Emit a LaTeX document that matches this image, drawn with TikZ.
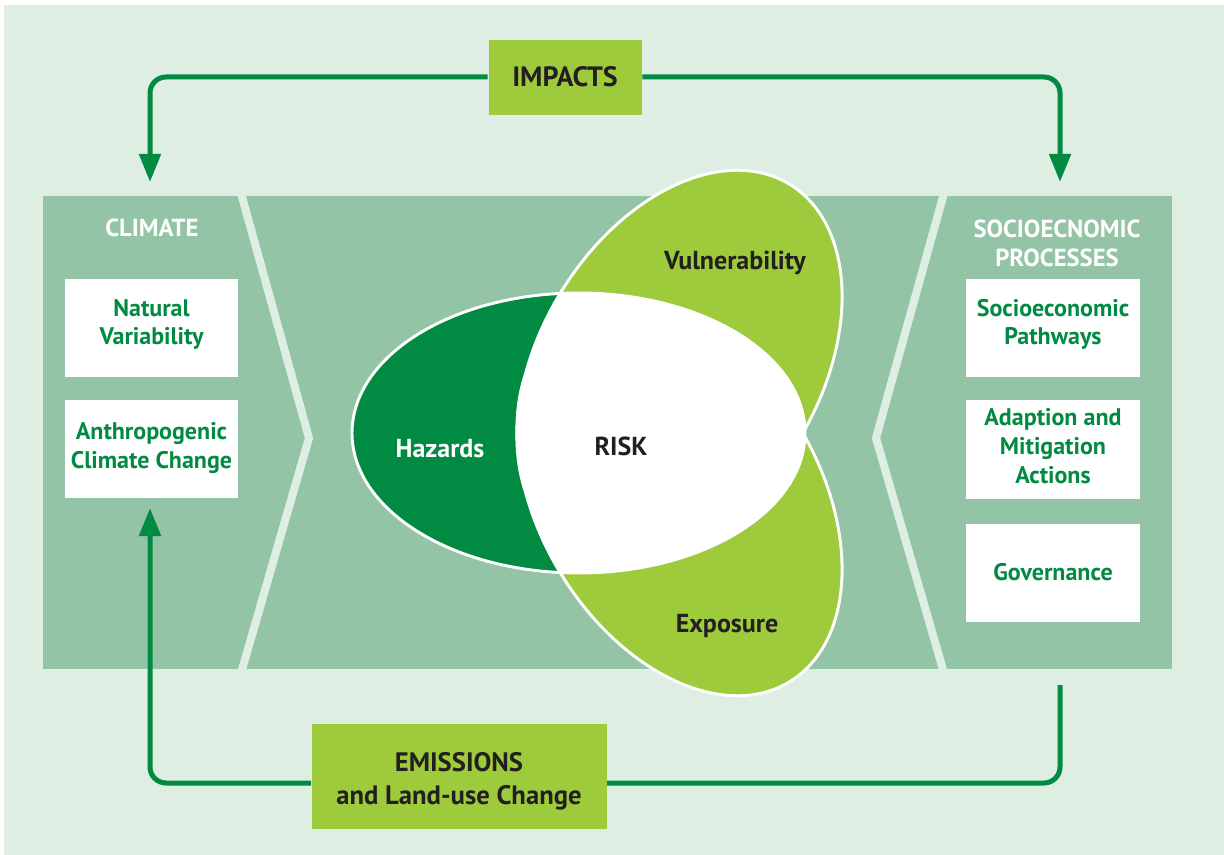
\documentclass[tikz,border=0pt]{standalone}
\usepackage{fontspec}
\setmainfont{PT Sans}
\usetikzlibrary{arrows.meta}
\definecolor{bgl}{HTML}{DEEEE3}
\definecolor{band}{HTML}{93C4A5}
\definecolor{dgreen}{HTML}{008A42}
\definecolor{lgreen}{HTML}{9DCB3B}
\definecolor{ink}{HTML}{231F20}
\begin{document}
\begin{tikzpicture}[x=0.75pt,y=-0.75pt,
  wbox/.style={fill=white, draw=none, inner sep=0pt, minimum width=130pt, minimum height=73.5pt},
  lbox/.style={fill=lgreen, draw=bgl, line width=0.6pt, inner sep=0pt},
  boxtxt/.style={font=\bfseries\fontsize{18pt}{21.5pt}\selectfont, text=dgreen, align=center, anchor=base, inner sep=0pt},
  headtxt/.style={font=\bfseries\fontsize{18.5pt}{22.3pt}\selectfont, text=white, align=center, anchor=base, inner sep=0pt},
  leaftxt/.style={font=\bfseries\fontsize{19.5pt}{23pt}\selectfont, text=ink, anchor=base, inner sep=0pt},
  flowline/.style={draw=dgreen, line width=3.75pt, rounded corners=12pt},
  flowarrow/.style={flowline, -{Triangle[length=21pt, width=15.75pt]}},
  stripe/.style={draw=bgl, line width=6pt},
  rim/.style={draw=white, line width=2.2pt}
]
\useasboundingbox (0,0) rectangle (1224,855);
\fill[white] (0,0) rectangle (1224,855);
\fill[bgl] (4,5) rectangle (1224,855);
\fill[band] (43,196) rectangle (1172,669);
\draw[stripe] (239,186) -- (309,438) -- (239,680);
\draw[stripe] (946,186) -- (876,438) -- (946,680);

% left column
\node[headtxt] (climH) at (152,237) {CLIMATE};
\node[wbox] (natB) at (151.5,328) {};
\node[wbox] (antB) at (151.5,449) {};
\node[boxtxt] (natT) at (151.5,345) {Natural\\Variability};
\node[boxtxt] (antT) at (151.5,468) {Anthropogenic\\Climate Change};

% right column
\node[headtxt] (socH) at (1057,267) {SOCIOECNOMIC\\PROCESSES};
\node[wbox] (pathB) at (1053,328.5) {};
\node[wbox] (adaB) at (1053,449.5) {};
\node[wbox] (govB) at (1053,572.5) {};
\node[boxtxt] (pathT) at (1053,345) {Socioeconomic\\Pathways};
\node[boxtxt] (adaT) at (1053,483) {Adaption and\\Mitigation\\Actions};
\node[boxtxt] (govT) at (1053,580) {Governance};

% ellipses
\fill[dgreen] (578.5,433) ellipse [x radius=226.5, y radius=140];
\begin{scope}[shift={(679.5,366.6)}, rotate=59]
  \fill[lgreen] (0,0) ellipse [x radius=213, y radius=140];
\end{scope}
\begin{scope}[shift={(679.5,499.4)}, rotate=-59]
  \fill[lgreen] (0,0) ellipse [x radius=213, y radius=140];
\end{scope}
\begin{scope}
  \clip (578.5,433) ellipse [x radius=226.5, y radius=140];
  \begin{scope}[shift={(679.5,366.6)}, rotate=59]
    \fill[white] (0,0) ellipse [x radius=213, y radius=140];
  \end{scope}
  \begin{scope}[shift={(679.5,499.4)}, rotate=-59]
    \fill[white] (0,0) ellipse [x radius=213, y radius=140];
  \end{scope}
\end{scope}
\draw[rim] (578.5,433) ellipse [x radius=226.5, y radius=140];
\begin{scope}[shift={(679.5,366.6)}, rotate=59]
  \draw[rim] (0,0) ellipse [x radius=213, y radius=140];
\end{scope}
\begin{scope}[shift={(679.5,499.4)}, rotate=-59]
  \draw[rim] (0,0) ellipse [x radius=213, y radius=140];
\end{scope}

\node[leaftxt, text=white] (haz) at (440,457) {Hazards};
\node[leaftxt] (risk) at (621,455) {RISK};
\node[leaftxt] (vul) at (735,270) {Vulnerability};
\node[leaftxt] (exp) at (727,632) {Exposure};

% impacts / emissions
\node[lbox, minimum width=115.5pt, minimum height=57pt,
      font=\bfseries\fontsize{21pt}{24pt}\selectfont, text=ink] (impacts) at (565,77) {IMPACTS};
\node[lbox, minimum width=222pt, minimum height=79.5pt] (emB) at (459,776) {};
\node[font=\bfseries\fontsize{20pt}{24.75pt}\selectfont, text=ink, align=center, anchor=base, inner sep=0pt]
      (emT) at (459,804) {EMISSIONS\\and Land-use Change};

\coordinate (climTop) at (150,182);
\coordinate (socTop) at (1060,182);
\coordinate (socBot) at (1060,685);
\coordinate (emR) at (607,783);
\coordinate (emL) at (311,783);
\coordinate (climBot) at (150,508);

\draw[flowarrow] (impacts.west) -| (climTop);
\draw[flowarrow] (impacts.east) -| (socTop);
\draw[flowline] (socBot) |- (emR);
\draw[flowarrow] (emL) -| (climBot);
\end{tikzpicture}
\end{document}
